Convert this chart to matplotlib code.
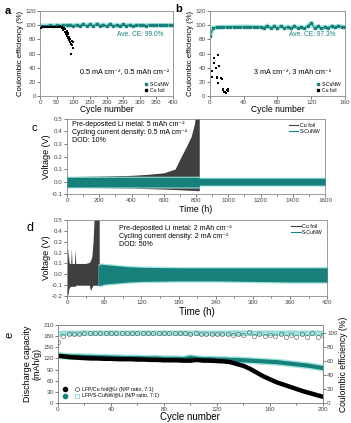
import numpy as np
import matplotlib
matplotlib.use("Agg")
import matplotlib.pyplot as plt
from matplotlib.lines import Line2D
from matplotlib.legend_handler import HandlerTuple

plt.rcParams['font.family'] = ['Liberation Sans', 'DejaVu Sans']

# colores
TEAL = '#17807b'
CYAN = '#a3e6e1'
DARK = '#3f3f3f'

# ---------------- datos panel a (0.5 mA cm-2) ----------------
a_cyc_s = np.arange(0, 401, 10)
a_ce_s = [99.0, 99.5, 99.3, 99.6, 99.4, 99.7, 99.5,
          99.8, 99.6, 100.2, 99.5, 100.4, 99.3, 101.5, 99.0,
          101.2, 98.8, 102.0, 99.4, 100.8, 98.6, 101.6, 99.2, 100.5, 98.9, 101.0, 99.5, 100.6, 99.1, 100.2, 99.6,
          100.1, 99.5, 100.3, 99.7, 100.0, 99.6, 100.2, 99.7, 100.1, 99.8]
a_cyc_cu = [1, 3, 5, 8, 10, 13, 15, 18, 20, 23, 25, 28, 30, 33, 35, 38, 40, 43, 45, 48, 50, 53, 55, 58, 60,
            63, 65, 67, 69, 70, 72, 74, 75, 77, 78, 80, 81, 83, 84, 85, 86, 88, 89, 90, 92, 93, 95, 97, 98, 100]
a_ce_cu = [95.5, 96.5, 96.8, 97, 97.2, 97, 97.3, 97.1, 97.4, 97.2, 97.5, 97.3, 97.5, 97.4, 97.6, 97.5, 97.7,
           97.5, 97.8, 97.6, 97.8, 97.7, 98, 97.8, 98.2,
           97.5, 96, 98, 95, 93, 96, 91, 94, 90, 88, 92, 85, 89, 82, 87, 79, 84, 76, 81, 60, 74, 78, 72, 68, 76]

# ---------------- datos panel b (3 mA cm-2) ----------------
b_cyc_s = np.arange(0, 161, 4)
b_ce_s = [85, 96.5, 97, 97.3, 97.5, 97.6, 97.7, 97.8, 97.8, 97.9, 97.9, 97.9, 97.8, 97.8, 97.6, 97.2,
          96.5, 99.5, 96, 98.5, 95.5, 99, 96, 98, 95.8, 98.8, 96.2, 97.5, 95.5, 99.2, 103, 96, 98.5, 95.8,
          97.8, 96.5, 98.6, 96.8, 99, 98, 97]
b_cyc_cu = [2, 3, 5, 5, 7, 8, 9, 10, 10, 11, 13, 14, 15, 16, 17, 18, 19, 20, 21, 22]
b_ce_cu = [35, 27, 53, 46, 40, 27, 25, 19, 58, 42, 25, 24, 10, 8, 5, 6, 4, 9, 7, 10]

# ---------------- datos panel c (envolventes de voltaje) ----------------
c_t_cu = [0, 100, 200, 300, 400, 500, 600, 670, 700, 740, 770, 790, 800, 820]
c_up_cu = [0.04, 0.042, 0.044, 0.047, 0.05, 0.058, 0.07, 0.1, 0.18, 0.28, 0.36, 0.46, 0.55, 0.55]
c_lo_cu = [-0.045, -0.046, -0.048, -0.05, -0.052, -0.056, -0.06, -0.063, -0.065, -0.068, -0.07, -0.07, -0.072, -0.072]
c_t_s = [0, 820, 821, 1600]
c_up_s = [0.035, 0.035, 0.027, 0.027]
c_lo_s = [-0.043, -0.043, -0.028, -0.028]

# ---------------- datos panel d ----------------
d_t_cu = [0, 1, 2, 3, 4, 6, 7, 8, 12, 13, 14, 20, 30, 36, 38, 40, 42, 44, 46, 50, 52]
d_up_cu = [0.05, 0.15, 0.24, 0.12, 0.1, 0.1, 0.24, 0.1, 0.1, 0.23, 0.1, 0.1, 0.1, 0.11, 0.13, 0.16, 0.3, 0.55, 0.55, 0.55, 0.55]
d_lo_cu = [-0.15, -0.2, -0.17, -0.13, -0.12, -0.11, -0.11, -0.11, -0.11, -0.11, -0.1, -0.1, -0.1, -0.1, -0.15, -0.12, -0.1, -0.1, -0.1, -0.1, -0.1]
d_t_s = [50, 55, 60, 80, 100, 120, 180, 240, 300, 360, 420]
d_up_s = [0.08, 0.095, 0.09, 0.08, 0.07, 0.065, 0.06, 0.06, 0.06, 0.06, 0.06]
d_lo_s = [-0.1, -0.1, -0.09, -0.08, -0.07, -0.065, -0.06, -0.06, -0.065, -0.07, -0.07]

# ---------------- datos panel e (celda completa LFP) ----------------
e_cyc_cap = np.arange(0, 201, 5)
e_cap_s = [128, 126, 125, 125, 124, 124, 123, 123, 122, 122, 121, 121, 121, 120, 120, 120, 119, 119, 119, 118,
           122, 119, 118, 118, 117, 117, 116, 116, 115, 114, 113, 112, 111, 110, 108, 106, 104, 102, 100, 97, 94]
e_cap_cu = [127, 125, 123, 122, 121, 120, 120, 119, 119, 118, 118, 118, 117, 117, 116, 116, 115, 115, 115, 114,
            114, 116, 114, 114, 113, 112, 110, 105, 100, 92, 82, 72, 64, 56, 50, 44, 38, 32, 27, 22, 17]
e_cyc_ce = np.arange(0, 201, 4)
e_ce_cu = [87, 96, 99, 99.5, 99.6, 99.7, 99.8, 99.7, 99.8, 99.9, 99.8, 99.8, 99.9, 99.8, 99.9, 99.8, 99.9,
           99.8, 99.8, 99.9, 99.7, 99.8, 99.8, 99.7, 99.8, 99.6, 99.7, 99.5, 99.6, 99.4, 99.2,
           98.5, 99.5, 97.8, 99, 97, 101.5, 96.5, 99, 95.8, 98.2, 95.5, 98.6, 95, 97.8, 94.8, 98.4, 95.2,
           101, 94.5, 97.5]
e_ce_s = [99, 99.8, 100, 100.2, 100, 100.3, 100.1, 100, 100.2, 100.1, 100.3, 100, 100.2, 100.1, 100, 100.3,
          100.1, 100.2, 100, 100.1, 100.3, 100.2, 100, 100.1, 100.2, 100, 100.3, 100.1, 100.2, 100, 100.1,
          100.2, 100, 100.3, 100.1, 100.2, 100, 100.1, 100.3, 100.2, 100, 100.1, 100.2, 100, 100.3, 100.1,
          100.2, 100, 100.1, 100.2, 100]


def estilo(ax, fs=4.5):
    ax.tick_params(direction='out', length=2, width=0.5, labelsize=fs, pad=1, colors='#444444')
    ax.tick_params(which='minor', direction='out', length=1.2, width=0.4)
    for s in ax.spines.values():
        s.set_linewidth(0.6)
        s.set_color('#8a8a8a')


fig = plt.figure(figsize=(3.51, 4.23), dpi=100)

# ===== a =====
ax = fig.add_axes([0.114, 0.773, 0.379, 0.201])
ax.plot(a_cyc_s, a_ce_s, color=CYAN, lw=3.2, zorder=1)
ax.plot(a_cyc_s, a_ce_s, color=TEAL, lw=0.8, marker='s', ms=1.5, zorder=2)
ax.scatter(a_cyc_cu, a_ce_cu, s=2.5, marker='s', color='black', zorder=3, lw=0)
ax.set_xlim(0, 400)
ax.set_ylim(0, 120)
ax.set_xticks(np.arange(0, 401, 50))
ax.set_yticks(np.arange(0, 121, 20))
ax.text(0.93, 0.71, 'Ave. CE: 99.0%', color=TEAL, fontsize=4.8, ha='right', transform=ax.transAxes)
ax.text(0.97, 0.27, '0.5 mA cm⁻², 0.5 mAh cm⁻²', fontsize=5.2, ha='right', transform=ax.transAxes)
ax.legend(handles=[Line2D([], [], ls='', marker='s', ms=2, color=TEAL, label='S-CuNW'),
                   Line2D([], [], ls='', marker='s', ms=2, color='black', label='Cu foil')],
          loc='lower right', fontsize=3.6, frameon=False, handletextpad=0.2, labelspacing=0.2,
          borderpad=0.2, handlelength=1)
ax.set_xlabel('Cycle number', fontsize=6.2, labelpad=0)
ax.set_ylabel('Coulombic efficiency (%)', fontsize=5.6, labelpad=1)
estilo(ax)
fig.text(0.012, 0.985, 'a', fontsize=8, fontweight='bold', va='top')

# ===== b =====
ax = fig.add_axes([0.598, 0.773, 0.385, 0.201])
ax.plot(b_cyc_s, b_ce_s, color=CYAN, lw=3.2, zorder=1)
ax.plot(b_cyc_s, b_ce_s, color=TEAL, lw=0.8, marker='s', ms=1.5, zorder=2)
ax.scatter(b_cyc_cu, b_ce_cu, s=3, marker='s', color='black', zorder=3, lw=0)
ax.set_xlim(0, 160)
ax.set_ylim(0, 120)
ax.set_xticks(np.arange(0, 161, 40))
ax.set_yticks(np.arange(0, 121, 20))
ax.text(0.93, 0.71, 'Ave. CE: 97.3%', color=TEAL, fontsize=4.8, ha='right', transform=ax.transAxes)
ax.text(0.9, 0.27, '3 mA cm⁻², 3 mAh cm⁻²', fontsize=5.2, ha='right', transform=ax.transAxes)
ax.legend(handles=[Line2D([], [], ls='', marker='s', ms=2, color=TEAL, label='S-CuNW'),
                   Line2D([], [], ls='', marker='s', ms=2, color='black', label='Cu foil')],
          loc='lower right', fontsize=3.6, frameon=False, handletextpad=0.2, labelspacing=0.2,
          borderpad=0.2, handlelength=1)
ax.set_xlabel('Cycle number', fontsize=6.2, labelpad=0)
ax.set_ylabel('Coulombic efficiency (%)', fontsize=5.6, labelpad=1)
estilo(ax)
fig.text(0.50, 0.99, 'b', fontsize=8, fontweight='bold', va='top')

# ===== c =====
ax = fig.add_axes([0.191, 0.541, 0.735, 0.178])
ax.fill_between(c_t_cu, c_lo_cu, c_up_cu, color=DARK, lw=0, zorder=1)
ax.fill_between(c_t_s, np.array(c_lo_s) - 0.008, np.array(c_up_s) + 0.008, color=CYAN, lw=0, zorder=2)
ax.fill_between(c_t_s, c_lo_s, c_up_s, color=TEAL, lw=0, zorder=3)
ax.set_xlim(0, 1600)
ax.set_ylim(-0.1, 0.5)
ax.set_xticks(np.arange(0, 1601, 200))
ax.set_xticks(np.arange(0, 1601, 100), minor=True)
ax.set_yticks(np.arange(-0.1, 0.51, 0.1))
ax.set_yticklabels(['-0.1', '0.0', '0.1', '0.2', '0.3', '0.4', '0.5'])
ax.text(0.02, 0.97, 'Pre-deposited Li metal: 5 mAh cm⁻²\nCycling current density: 0.5 mA cm⁻²\nDOD: 10%',
        fontsize=5, va='top', transform=ax.transAxes, linespacing=1.15)
ax.legend(handles=[Line2D([], [], color=DARK, lw=0.8, label='Cu foil'),
                   Line2D([], [], color=TEAL, lw=0.8, label='S-CuNW')],
          loc='upper right', fontsize=3.8, frameon=False, handletextpad=0.3, labelspacing=0.1,
          borderpad=0.3, handlelength=1.8)
ax.set_xlabel('Time (h)', fontsize=6.5, labelpad=1)
ax.set_ylabel('Voltage (V)', fontsize=6.5, labelpad=1)
estilo(ax)
fig.text(0.09, 0.71, 'c', fontsize=8, va='top')

# ===== d =====
ax = fig.add_axes([0.191, 0.300, 0.741, 0.180])
ax.fill_between(d_t_cu, d_lo_cu, d_up_cu, color=DARK, lw=0, zorder=1)
ax.fill_between(d_t_s, np.array(d_lo_s) - 0.012, np.array(d_up_s) + 0.012, color=CYAN, lw=0, zorder=2)
ax.fill_between(d_t_s, d_lo_s, d_up_s, color=TEAL, lw=0, zorder=3)
ax.set_xlim(0, 420)
ax.set_ylim(-0.2, 0.5)
ax.set_xticks(np.arange(0, 421, 60))
ax.set_xticks(np.arange(0, 421, 30), minor=True)
ax.set_yticks(np.arange(-0.2, 0.51, 0.1))
ax.set_yticklabels(['-0.2', '-0.1', '0.0', '0.1', '0.2', '0.3', '0.4', '0.5'])
ax.text(0.2, 0.93, 'Pre-deposited Li metal: 2 mAh cm⁻²\nCycling current density: 2 mA cm⁻²\nDOD: 50%',
        fontsize=5, va='top', transform=ax.transAxes, linespacing=1.15)
ax.legend(handles=[Line2D([], [], color=DARK, lw=0.8, label='Cu foil'),
                   Line2D([], [], color=TEAL, lw=0.8, label='S-CuNW')],
          loc='upper right', fontsize=3.8, frameon=False, handletextpad=0.3, labelspacing=0.1,
          borderpad=0.3, handlelength=1.8)
ax.set_xlabel('Time (h)', fontsize=7, labelpad=1)
ax.set_ylabel('Voltage (V)', fontsize=6.5, labelpad=1)
estilo(ax)
fig.text(0.075, 0.475, 'd', fontsize=9, va='top')

# ===== e =====
ax = fig.add_axes([0.165, 0.047, 0.755, 0.185])
ax2 = ax.twinx()
ax.plot(e_cyc_cap, e_cap_s, color=CYAN, lw=5, zorder=1, solid_capstyle='round')
ax.plot(e_cyc_cap, e_cap_s, color=TEAL, lw=3, zorder=2, solid_capstyle='round')
ax.plot(e_cyc_cap, e_cap_cu, color='black', lw=3.2, zorder=3, solid_capstyle='round')
ax2.plot(e_cyc_ce, e_ce_s, color=CYAN, lw=4, zorder=1)
ax2.plot(e_cyc_ce, e_ce_s, ls='', marker='s', ms=2.8, mfc='none', mec='#7fcfc8', mew=0.4, zorder=2)
ax2.plot(e_cyc_ce, e_ce_cu, ls='', marker='o', ms=3, mfc='none', mec='#555555', mew=0.4, zorder=3)
ax.set_xlim(0, 200)
ax.set_ylim(0, 210)
ax2.set_ylim(0, 112)
ax.set_xticks(np.arange(0, 201, 40))
ax.set_xticks(np.arange(0, 201, 20), minor=True)
ax.set_yticks(np.arange(0, 211, 30))
ax2.set_yticks(np.arange(0, 101, 20))
h1 = Line2D([], [], ls='', marker='o', ms=3, color='black')
h2 = Line2D([], [], ls='', marker='o', ms=3, mfc='none', mec='#555555', mew=0.5)
h3 = Line2D([], [], ls='', marker='o', ms=3, color=TEAL)
h4 = Line2D([], [], ls='', marker='s', ms=3, mfc='none', mec='#7fcfc8', mew=0.5)
ax.legend([(h1, h2), (h3, h4)],
          ['LFP/Cu foil@Li (N/P ratio, 7:1)', 'LFP/S-CuNW@Li (N/P ratio, 7:1)'],
          handler_map={tuple: HandlerTuple(ndivide=None, pad=1.5)},
          loc='lower left', fontsize=3.8, frameon=False, handlelength=3, handletextpad=0.6,
          labelspacing=0.3, borderpad=0.4)
ax.set_xlabel('Cycle number', fontsize=7, labelpad=0)
ax.set_ylabel('Discharge capacity\n(mAh/g)', fontsize=6.5, labelpad=1, linespacing=1.1)
ax2.set_ylabel('Coulombic efficiency (%)', fontsize=6.2, labelpad=1)
estilo(ax)
estilo(ax2)
fig.text(0.012, 0.215, 'e', fontsize=8, va='top', rotation=90)

fig.savefig('out.png', dpi=100)
